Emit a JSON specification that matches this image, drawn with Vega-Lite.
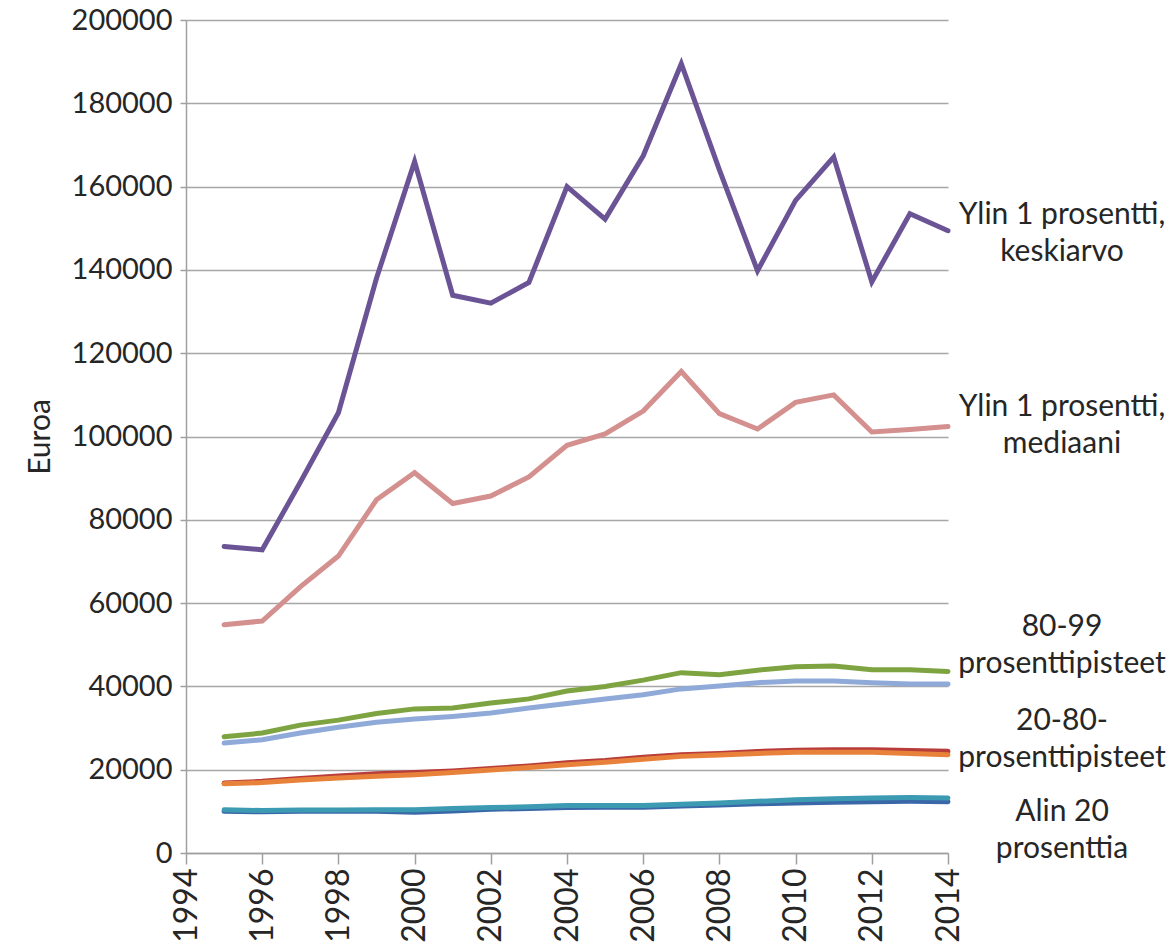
{
  "$schema": "https://vega.github.io/schema/vega-lite/v6.json",
  "width": 762,
  "height": 833,
  "autosize": "none",
  "padding": {"left": 186, "top": 20, "right": 224, "bottom": 92},
  "background": "white",
  "config": {
    "view": {"stroke": null},
    "font": "Lato",
    "axis": {
      "domainColor": "#A0A0A0",
      "domainWidth": 1.5,
      "tickColor": "#A0A0A0",
      "tickWidth": 1.5,
      "gridColor": "#A6A6A6",
      "gridWidth": 1.4,
      "labelColor": "#262626",
      "titleColor": "#262626",
      "labelFont": "Lato",
      "titleFont": "Lato"
    }
  },
  "layer": [
    {
      "data": {
        "values": [
          {"vuosi": 1995, "sarja": "Ylin 1 keskiarvo", "euroa": 73600},
          {"vuosi": 1996, "sarja": "Ylin 1 keskiarvo", "euroa": 72800},
          {"vuosi": 1997, "sarja": "Ylin 1 keskiarvo", "euroa": 89000},
          {"vuosi": 1998, "sarja": "Ylin 1 keskiarvo", "euroa": 105700},
          {"vuosi": 1999, "sarja": "Ylin 1 keskiarvo", "euroa": 138000},
          {"vuosi": 2000, "sarja": "Ylin 1 keskiarvo", "euroa": 166000},
          {"vuosi": 2001, "sarja": "Ylin 1 keskiarvo", "euroa": 133900},
          {"vuosi": 2002, "sarja": "Ylin 1 keskiarvo", "euroa": 132000},
          {"vuosi": 2003, "sarja": "Ylin 1 keskiarvo", "euroa": 137000},
          {"vuosi": 2004, "sarja": "Ylin 1 keskiarvo", "euroa": 160000},
          {"vuosi": 2005, "sarja": "Ylin 1 keskiarvo", "euroa": 152200},
          {"vuosi": 2006, "sarja": "Ylin 1 keskiarvo", "euroa": 167400},
          {"vuosi": 2007, "sarja": "Ylin 1 keskiarvo", "euroa": 189500},
          {"vuosi": 2008, "sarja": "Ylin 1 keskiarvo", "euroa": 164000},
          {"vuosi": 2009, "sarja": "Ylin 1 keskiarvo", "euroa": 139800},
          {"vuosi": 2010, "sarja": "Ylin 1 keskiarvo", "euroa": 156700},
          {"vuosi": 2011, "sarja": "Ylin 1 keskiarvo", "euroa": 167100},
          {"vuosi": 2012, "sarja": "Ylin 1 keskiarvo", "euroa": 137100},
          {"vuosi": 2013, "sarja": "Ylin 1 keskiarvo", "euroa": 153500},
          {"vuosi": 2014, "sarja": "Ylin 1 keskiarvo", "euroa": 149400},

          {"vuosi": 1995, "sarja": "Ylin 1 mediaani", "euroa": 54800},
          {"vuosi": 1996, "sarja": "Ylin 1 mediaani", "euroa": 55700},
          {"vuosi": 1997, "sarja": "Ylin 1 mediaani", "euroa": 63900},
          {"vuosi": 1998, "sarja": "Ylin 1 mediaani", "euroa": 71300},
          {"vuosi": 1999, "sarja": "Ylin 1 mediaani", "euroa": 84800},
          {"vuosi": 2000, "sarja": "Ylin 1 mediaani", "euroa": 91300},
          {"vuosi": 2001, "sarja": "Ylin 1 mediaani", "euroa": 83900},
          {"vuosi": 2002, "sarja": "Ylin 1 mediaani", "euroa": 85700},
          {"vuosi": 2003, "sarja": "Ylin 1 mediaani", "euroa": 90300},
          {"vuosi": 2004, "sarja": "Ylin 1 mediaani", "euroa": 97900},
          {"vuosi": 2005, "sarja": "Ylin 1 mediaani", "euroa": 100600},
          {"vuosi": 2006, "sarja": "Ylin 1 mediaani", "euroa": 106100},
          {"vuosi": 2007, "sarja": "Ylin 1 mediaani", "euroa": 115600},
          {"vuosi": 2008, "sarja": "Ylin 1 mediaani", "euroa": 105500},
          {"vuosi": 2009, "sarja": "Ylin 1 mediaani", "euroa": 101800},
          {"vuosi": 2010, "sarja": "Ylin 1 mediaani", "euroa": 108200},
          {"vuosi": 2011, "sarja": "Ylin 1 mediaani", "euroa": 110000},
          {"vuosi": 2012, "sarja": "Ylin 1 mediaani", "euroa": 101100},
          {"vuosi": 2013, "sarja": "Ylin 1 mediaani", "euroa": 101700},
          {"vuosi": 2014, "sarja": "Ylin 1 mediaani", "euroa": 102400},

          {"vuosi": 1995, "sarja": "80-99 keskiarvo", "euroa": 27900},
          {"vuosi": 1996, "sarja": "80-99 keskiarvo", "euroa": 28800},
          {"vuosi": 1997, "sarja": "80-99 keskiarvo", "euroa": 30700},
          {"vuosi": 1998, "sarja": "80-99 keskiarvo", "euroa": 31900},
          {"vuosi": 1999, "sarja": "80-99 keskiarvo", "euroa": 33500},
          {"vuosi": 2000, "sarja": "80-99 keskiarvo", "euroa": 34600},
          {"vuosi": 2001, "sarja": "80-99 keskiarvo", "euroa": 34800},
          {"vuosi": 2002, "sarja": "80-99 keskiarvo", "euroa": 36000},
          {"vuosi": 2003, "sarja": "80-99 keskiarvo", "euroa": 37000},
          {"vuosi": 2004, "sarja": "80-99 keskiarvo", "euroa": 38900},
          {"vuosi": 2005, "sarja": "80-99 keskiarvo", "euroa": 40000},
          {"vuosi": 2006, "sarja": "80-99 keskiarvo", "euroa": 41500},
          {"vuosi": 2007, "sarja": "80-99 keskiarvo", "euroa": 43300},
          {"vuosi": 2008, "sarja": "80-99 keskiarvo", "euroa": 42800},
          {"vuosi": 2009, "sarja": "80-99 keskiarvo", "euroa": 43900},
          {"vuosi": 2010, "sarja": "80-99 keskiarvo", "euroa": 44700},
          {"vuosi": 2011, "sarja": "80-99 keskiarvo", "euroa": 44900},
          {"vuosi": 2012, "sarja": "80-99 keskiarvo", "euroa": 44000},
          {"vuosi": 2013, "sarja": "80-99 keskiarvo", "euroa": 44000},
          {"vuosi": 2014, "sarja": "80-99 keskiarvo", "euroa": 43600},

          {"vuosi": 1995, "sarja": "80-99 mediaani", "euroa": 26400},
          {"vuosi": 1996, "sarja": "80-99 mediaani", "euroa": 27200},
          {"vuosi": 1997, "sarja": "80-99 mediaani", "euroa": 28800},
          {"vuosi": 1998, "sarja": "80-99 mediaani", "euroa": 30200},
          {"vuosi": 1999, "sarja": "80-99 mediaani", "euroa": 31400},
          {"vuosi": 2000, "sarja": "80-99 mediaani", "euroa": 32200},
          {"vuosi": 2001, "sarja": "80-99 mediaani", "euroa": 32800},
          {"vuosi": 2002, "sarja": "80-99 mediaani", "euroa": 33600},
          {"vuosi": 2003, "sarja": "80-99 mediaani", "euroa": 34800},
          {"vuosi": 2004, "sarja": "80-99 mediaani", "euroa": 35900},
          {"vuosi": 2005, "sarja": "80-99 mediaani", "euroa": 37000},
          {"vuosi": 2006, "sarja": "80-99 mediaani", "euroa": 38000},
          {"vuosi": 2007, "sarja": "80-99 mediaani", "euroa": 39400},
          {"vuosi": 2008, "sarja": "80-99 mediaani", "euroa": 40100},
          {"vuosi": 2009, "sarja": "80-99 mediaani", "euroa": 40900},
          {"vuosi": 2010, "sarja": "80-99 mediaani", "euroa": 41300},
          {"vuosi": 2011, "sarja": "80-99 mediaani", "euroa": 41300},
          {"vuosi": 2012, "sarja": "80-99 mediaani", "euroa": 40900},
          {"vuosi": 2013, "sarja": "80-99 mediaani", "euroa": 40600},
          {"vuosi": 2014, "sarja": "80-99 mediaani", "euroa": 40600},

          {"vuosi": 1995, "sarja": "20-80 keskiarvo", "euroa": 16800},
          {"vuosi": 1996, "sarja": "20-80 keskiarvo", "euroa": 17200},
          {"vuosi": 1997, "sarja": "20-80 keskiarvo", "euroa": 17900},
          {"vuosi": 1998, "sarja": "20-80 keskiarvo", "euroa": 18500},
          {"vuosi": 1999, "sarja": "20-80 keskiarvo", "euroa": 19000},
          {"vuosi": 2000, "sarja": "20-80 keskiarvo", "euroa": 19300},
          {"vuosi": 2001, "sarja": "20-80 keskiarvo", "euroa": 19700},
          {"vuosi": 2002, "sarja": "20-80 keskiarvo", "euroa": 20300},
          {"vuosi": 2003, "sarja": "20-80 keskiarvo", "euroa": 20900},
          {"vuosi": 2004, "sarja": "20-80 keskiarvo", "euroa": 21700},
          {"vuosi": 2005, "sarja": "20-80 keskiarvo", "euroa": 22200},
          {"vuosi": 2006, "sarja": "20-80 keskiarvo", "euroa": 23000},
          {"vuosi": 2007, "sarja": "20-80 keskiarvo", "euroa": 23600},
          {"vuosi": 2008, "sarja": "20-80 keskiarvo", "euroa": 23900},
          {"vuosi": 2009, "sarja": "20-80 keskiarvo", "euroa": 24400},
          {"vuosi": 2010, "sarja": "20-80 keskiarvo", "euroa": 24700},
          {"vuosi": 2011, "sarja": "20-80 keskiarvo", "euroa": 24800},
          {"vuosi": 2012, "sarja": "20-80 keskiarvo", "euroa": 24800},
          {"vuosi": 2013, "sarja": "20-80 keskiarvo", "euroa": 24600},
          {"vuosi": 2014, "sarja": "20-80 keskiarvo", "euroa": 24400},

          {"vuosi": 1995, "sarja": "20-80 mediaani", "euroa": 16600},
          {"vuosi": 1996, "sarja": "20-80 mediaani", "euroa": 16900},
          {"vuosi": 1997, "sarja": "20-80 mediaani", "euroa": 17500},
          {"vuosi": 1998, "sarja": "20-80 mediaani", "euroa": 18000},
          {"vuosi": 1999, "sarja": "20-80 mediaani", "euroa": 18400},
          {"vuosi": 2000, "sarja": "20-80 mediaani", "euroa": 18800},
          {"vuosi": 2001, "sarja": "20-80 mediaani", "euroa": 19300},
          {"vuosi": 2002, "sarja": "20-80 mediaani", "euroa": 19900},
          {"vuosi": 2003, "sarja": "20-80 mediaani", "euroa": 20500},
          {"vuosi": 2004, "sarja": "20-80 mediaani", "euroa": 21200},
          {"vuosi": 2005, "sarja": "20-80 mediaani", "euroa": 21800},
          {"vuosi": 2006, "sarja": "20-80 mediaani", "euroa": 22500},
          {"vuosi": 2007, "sarja": "20-80 mediaani", "euroa": 23200},
          {"vuosi": 2008, "sarja": "20-80 mediaani", "euroa": 23500},
          {"vuosi": 2009, "sarja": "20-80 mediaani", "euroa": 23900},
          {"vuosi": 2010, "sarja": "20-80 mediaani", "euroa": 24200},
          {"vuosi": 2011, "sarja": "20-80 mediaani", "euroa": 24200},
          {"vuosi": 2012, "sarja": "20-80 mediaani", "euroa": 24200},
          {"vuosi": 2013, "sarja": "20-80 mediaani", "euroa": 23900},
          {"vuosi": 2014, "sarja": "20-80 mediaani", "euroa": 23600},

          {"vuosi": 1995, "sarja": "Alin 20 mediaani", "euroa": 10000},
          {"vuosi": 1996, "sarja": "Alin 20 mediaani", "euroa": 9900},
          {"vuosi": 1997, "sarja": "Alin 20 mediaani", "euroa": 10000},
          {"vuosi": 1998, "sarja": "Alin 20 mediaani", "euroa": 10000},
          {"vuosi": 1999, "sarja": "Alin 20 mediaani", "euroa": 10000},
          {"vuosi": 2000, "sarja": "Alin 20 mediaani", "euroa": 9800},
          {"vuosi": 2001, "sarja": "Alin 20 mediaani", "euroa": 10100},
          {"vuosi": 2002, "sarja": "Alin 20 mediaani", "euroa": 10500},
          {"vuosi": 2003, "sarja": "Alin 20 mediaani", "euroa": 10700},
          {"vuosi": 2004, "sarja": "Alin 20 mediaani", "euroa": 10900},
          {"vuosi": 2005, "sarja": "Alin 20 mediaani", "euroa": 11000},
          {"vuosi": 2006, "sarja": "Alin 20 mediaani", "euroa": 11000},
          {"vuosi": 2007, "sarja": "Alin 20 mediaani", "euroa": 11300},
          {"vuosi": 2008, "sarja": "Alin 20 mediaani", "euroa": 11500},
          {"vuosi": 2009, "sarja": "Alin 20 mediaani", "euroa": 11800},
          {"vuosi": 2010, "sarja": "Alin 20 mediaani", "euroa": 12000},
          {"vuosi": 2011, "sarja": "Alin 20 mediaani", "euroa": 12200},
          {"vuosi": 2012, "sarja": "Alin 20 mediaani", "euroa": 12300},
          {"vuosi": 2013, "sarja": "Alin 20 mediaani", "euroa": 12400},
          {"vuosi": 2014, "sarja": "Alin 20 mediaani", "euroa": 12300},

          {"vuosi": 1995, "sarja": "Alin 20 keskiarvo", "euroa": 10400},
          {"vuosi": 1996, "sarja": "Alin 20 keskiarvo", "euroa": 10200},
          {"vuosi": 1997, "sarja": "Alin 20 keskiarvo", "euroa": 10300},
          {"vuosi": 1998, "sarja": "Alin 20 keskiarvo", "euroa": 10300},
          {"vuosi": 1999, "sarja": "Alin 20 keskiarvo", "euroa": 10400},
          {"vuosi": 2000, "sarja": "Alin 20 keskiarvo", "euroa": 10400},
          {"vuosi": 2001, "sarja": "Alin 20 keskiarvo", "euroa": 10700},
          {"vuosi": 2002, "sarja": "Alin 20 keskiarvo", "euroa": 10900},
          {"vuosi": 2003, "sarja": "Alin 20 keskiarvo", "euroa": 11100},
          {"vuosi": 2004, "sarja": "Alin 20 keskiarvo", "euroa": 11400},
          {"vuosi": 2005, "sarja": "Alin 20 keskiarvo", "euroa": 11400},
          {"vuosi": 2006, "sarja": "Alin 20 keskiarvo", "euroa": 11400},
          {"vuosi": 2007, "sarja": "Alin 20 keskiarvo", "euroa": 11700},
          {"vuosi": 2008, "sarja": "Alin 20 keskiarvo", "euroa": 12000},
          {"vuosi": 2009, "sarja": "Alin 20 keskiarvo", "euroa": 12400},
          {"vuosi": 2010, "sarja": "Alin 20 keskiarvo", "euroa": 12800},
          {"vuosi": 2011, "sarja": "Alin 20 keskiarvo", "euroa": 13000},
          {"vuosi": 2012, "sarja": "Alin 20 keskiarvo", "euroa": 13200},
          {"vuosi": 2013, "sarja": "Alin 20 keskiarvo", "euroa": 13300},
          {"vuosi": 2014, "sarja": "Alin 20 keskiarvo", "euroa": 13200}
        ]
      },
      "mark": {"type": "line", "strokeWidth": 5, "strokeCap": "round"},
      "encoding": {
        "x": {
          "field": "vuosi",
          "type": "quantitative",
          "scale": {"domain": [1994, 2014], "nice": false, "zero": false},
          "axis": {
            "values": [1994, 1996, 1998, 2000, 2002, 2004, 2006, 2008, 2010, 2012, 2014],
            "format": "d",
            "labelAngle": 270,
            "labelFontSize": 32,
            "labelPadding": 4,
            "tickSize": 11,
            "grid": false,
            "title": null
          }
        },
        "y": {
          "field": "euroa",
          "type": "quantitative",
          "scale": {"domain": [0, 200000], "nice": false},
          "axis": {
            "values": [0, 20000, 40000, 60000, 80000, 100000, 120000, 140000, 160000, 180000, 200000],
            "format": "d",
            "labelFontSize": 29,
            "labelPadding": 8,
            "tickSize": 6,
            "grid": true,
            "title": "Euroa",
            "titleFontSize": 30,
            "titleFontWeight": "normal",
            "titlePadding": 16
          }
        },
        "color": {
          "field": "sarja",
          "type": "nominal",
          "legend": null,
          "scale": {
            "domain": ["Ylin 1 keskiarvo", "Ylin 1 mediaani", "80-99 keskiarvo", "80-99 mediaani", "20-80 keskiarvo", "20-80 mediaani", "Alin 20 mediaani", "Alin 20 keskiarvo"],
            "range": ["#6A5495", "#D4908E", "#7DA440", "#8FAAD8", "#B83C3A", "#E8823A", "#3A67A8", "#3C9AB2"]
          }
        }
      }
    },
    {
      "data": {
        "values": [
          {"vuosi": 2014, "euroa": 153200, "teksti": "Ylin 1 prosentti,\nkeskiarvo"},
          {"vuosi": 2014, "euroa": 107100, "teksti": "Ylin 1 prosentti,\nmediaani"},
          {"vuosi": 2014, "euroa": 54300, "teksti": "80-99\nprosenttipisteet"},
          {"vuosi": 2014, "euroa": 31600, "teksti": "20-80-\nprosenttipisteet"},
          {"vuosi": 2014, "euroa": 9900, "teksti": "Alin 20\nprosenttia"}
        ]
      },
      "mark": {
        "type": "text",
        "align": "center",
        "baseline": "middle",
        "dx": 114,
        "fontSize": 30,
        "font": "Lato",
        "lineBreak": "\n",
        "lineHeight": 37,
        "color": "#262626"
      },
      "encoding": {
        "x": {"field": "vuosi", "type": "quantitative"},
        "y": {"field": "euroa", "type": "quantitative"},
        "text": {"field": "teksti"}
      }
    }
  ]
}
